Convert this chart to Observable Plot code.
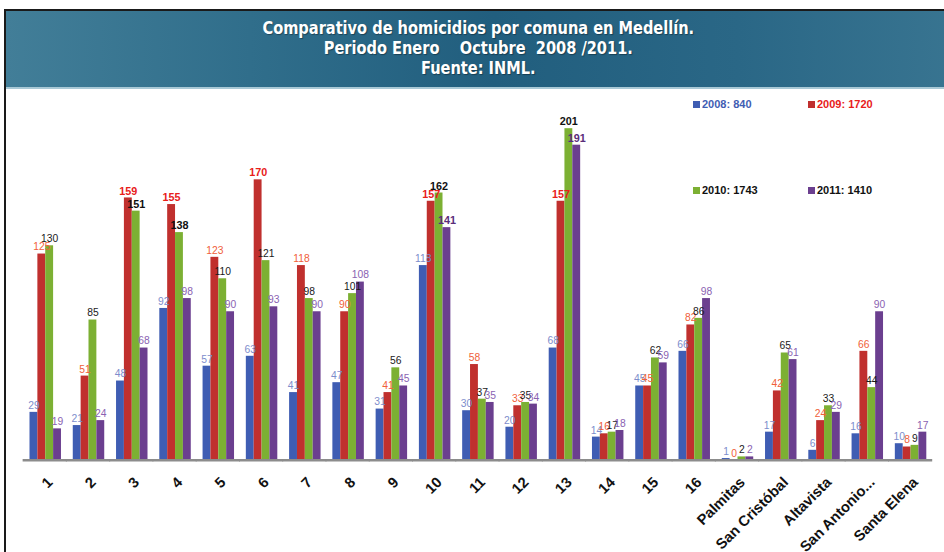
<!DOCTYPE html>
<html><head><meta charset="utf-8">
<script src="https://cdn.jsdelivr.net/npm/d3@7"></script>
<script src="https://cdn.jsdelivr.net/npm/@observablehq/plot@0.6"></script>
<style>
html,body{margin:0;padding:0;background:#fff;width:944px;height:552px;overflow:hidden;position:relative;}
#frame{position:absolute;left:4px;top:9px;width:980px;height:600px;border:2px solid #1a1a1a;box-sizing:border-box;}
#header{position:absolute;left:0;top:0;right:0;height:78px;
 background:linear-gradient(90deg,#427e98 0%,#306e8b 25%,#215e7e 50%,#2a6786 75%,#3a7692 100%);
 border-bottom:2px solid #a9c9d6;box-sizing:border-box;}
#header div{position:absolute;left:0;width:944px;text-align:center;color:#fff;
 font-family:"Liberation Sans Narrow","DejaVu Sans Condensed","Liberation Sans",sans-serif;font-weight:bold;font-size:18px;
 transform:scaleX(0.9);transform-origin:475px 0;text-shadow:1px 1px 1px rgba(0,0,0,0.35);line-height:20px;}
#chart{position:absolute;left:0;top:88px;}
.leg{position:absolute;font-family:"Liberation Sans",Arial,sans-serif;font-weight:bold;font-size:11px;white-space:nowrap;}
.leg span{display:inline-block;width:7px;height:7px;margin-right:2px;vertical-align:0px;}
#chart g[aria-label="fx-axis tick label"] text{font-family:"Liberation Sans",Arial,sans-serif;font-weight:bold;font-size:15px;fill:#111;}
</style></head>
<body>
<div id="frame"><div id="header">
 <div style="top:7px">Comparativo de homicidios por comuna en Medellín.</div>
 <div style="top:27px">Periodo Enero&nbsp;&nbsp;&nbsp; Octubre&nbsp; 2008 /2011.</div>
 <div style="top:47px">Fuente: INML.</div>
</div></div>
<div id="chart"></div>
<div id="legend"></div>
<script>
const comunas = ["1","2","3","4","5","6","7","8","9","10","11","12","13","14","15","16","Palmitas","San Cristóbal","Altavista","San Antonio...","Santa Elena"];
const years = ["2008","2009","2010","2011"];
const v2008 = [29,21,48,92,57,63,41,47,31,118,30,20,68,14,45,66,1,17,6,16,10];
const v2009 = [125,51,159,155,123,170,118,90,41,157,58,33,157,16,45,82,0,42,24,66,8];
const v2010 = [130,85,151,138,110,121,98,101,56,162,37,35,201,17,62,86,2,65,33,44,9];
const v2011 = [19,24,68,98,90,93,90,108,45,141,35,34,191,18,59,98,2,61,29,90,17];
const totals = [840,1720,1743,1410];
const barColors = ["#3f5db3","#c0302e","#7cb033","#6b3f8f"];

const series = [v2008,v2009,v2010,v2011];
const table = [];
years.forEach((y,i)=>comunas.forEach((c,j)=>table.push({comuna:c, year:y, value:series[i][j]})));

const labelStyles = [
  {year:"2008", fill:"#7d8dcc", boldFill:"#7d8dcc"},
  {year:"2009", fill:"#f0603a", boldFill:"#e8201a"},
  {year:"2010", fill:"#1a1a1a", boldFill:"#111"},
  {year:"2011", fill:"#8a62b2", boldFill:"#5a2d7a"}
];
const labelMarks = [];
labelStyles.forEach(s=>{
  const rows = table.filter(d=>d.year===s.year);
  labelMarks.push(Plot.text(rows.filter(d=>d.value<135), {fx:"comuna", x:"year", y:"value", text:d=>String(d.value), dy:-7, fill:s.fill, fontSize:10.5}));
  labelMarks.push(Plot.text(rows.filter(d=>d.value>=135), {fx:"comuna", x:"year", y:"value", text:d=>String(d.value), dy:-7, fill:s.boldFill, fontSize:11, fontWeight:"bold"}));
});

const plot = Plot.plot({
  width: 960, height: 464,
  marginLeft: 21, marginRight: 10, marginTop: 9, marginBottom: 86,
  style: {fontFamily:"Liberation Sans, Arial, sans-serif", background:"transparent", overflow:"visible"},
  fx: {domain: comunas, paddingInner: 0.254, paddingOuter: 0.127, label: null},
  x: {domain: years, padding: 0, axis: null},
  y: {domain: [0,220], axis: null},
  color: {domain: years, range: barColors},
  marks: [
    Plot.axisFx({anchor:"bottom", tickSize:0, tickPadding:12, tickRotate:-45, textAnchor:"end", dx:5, dy:8, label:null}),
    Plot.barY(table, {fx:"comuna", x:"year", y:"value", fill:"year", insetLeft:0, insetRight:0}),
    Plot.ruleY([0], {stroke:"#8c8c8c", strokeWidth:2.5, insetLeft:-6, insetRight:-6}),
    ...labelMarks
  ]
});
document.getElementById("chart").appendChild(plot);

const legPos = [[693,98],[808,98],[693,184],[808,184]];
const legText = ["#3f5db3","#e8201a","#111","#111"];
const legend = document.getElementById("legend");
years.forEach((y,i)=>{
  const d = document.createElement("div");
  d.className = "leg";
  d.style.left = legPos[i][0]+"px"; d.style.top = legPos[i][1]+"px"; d.style.color = legText[i];
  d.innerHTML = `<span style="background:${barColors[i]}"></span>${y}: ${totals[i]}`;
  legend.appendChild(d);
});
</script>
</body></html>
